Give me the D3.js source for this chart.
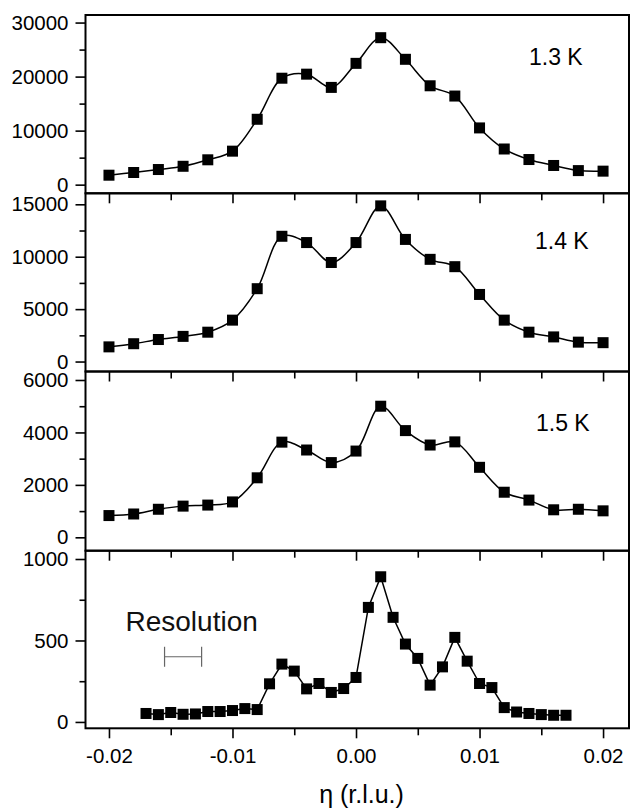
<!DOCTYPE html>
<html>
<head>
<meta charset="utf-8">
<script src="https://cdn.jsdelivr.net/npm/d3@7/dist/d3.min.js"></script>
<style>
  html, body { margin: 0; padding: 0; background: #fff; }
  svg { display: block; font-family: "Liberation Sans", Arial, Helvetica, sans-serif; }
</style>
</head>
<body>
<svg id="chart" width="634" height="810"></svg>
<script>
// ---------------- DATA ----------------
const etaCoarse = [-0.020,-0.018,-0.016,-0.014,-0.012,-0.010,-0.008,-0.006,-0.004,-0.002,
                   0.000,0.002,0.004,0.006,0.008,0.010,0.012,0.014,0.016,0.018,0.020];
const counts13K = [1750,2250,2800,3400,4600,6200,12100,19700,20450,18000,
                   22450,27200,23200,18300,16400,10500,6600,4650,3550,2600,2500];
const counts14K = [1400,1700,2100,2400,2800,3950,6950,11950,11350,9450,
                   11350,14850,11650,9750,9050,6400,3950,2800,2350,1850,1800];
const counts15K = [830,890,1070,1190,1230,1350,2270,3630,3330,2850,
                   3290,5000,4070,3520,3640,2670,1720,1420,1050,1070,1010];
const etaFine = [-0.017,-0.016,-0.015,-0.014,-0.013,-0.012,-0.011,-0.010,-0.009,-0.008,
                 -0.007,-0.006,-0.005,-0.004,-0.003,-0.002,-0.001,0.000,0.001,0.002,
                 0.003,0.004,0.005,0.006,0.007,0.008,0.009,0.010,0.011,0.012,
                 0.013,0.014,0.015,0.016,0.017];
const countsLow = [52,45,58,47,49,64,64,70,82,76,
                   234,355,312,203,236,181,205,273,703,891,
                   642,478,390,226,338,519,373,236,211,88,
                   61,52,45,41,41];
const tempLabels = ["1.3 K","1.4 K","1.5 K",""];
const yTicks1 = [0,10000,20000,30000];
const yTicks2 = [0,5000,10000,15000];
const yTicks3 = [0,2000,4000,6000];
const yTicks4 = [0,500,1000];
const xTicks = [-0.02,-0.01,0.00,0.01,0.02];
const xTickLabels = ["-0.02","-0.01","0.00","0.01","0.02"];
const resolutionEta = [-0.0155,-0.0125];
const resolutionLevel = 400;
const xTitle = "η (r.l.u.)";

// ---------------- LAYOUT ----------------
const svg = d3.select("#chart");
const left = 85.5, right = 629;
const x = d3.scaleLinear().domain([-0.0219, 0.0221]).range([left, right]);

const panels = [
  {top: 15,    bottom: 193.3, domain: [-1600, 31400], ticks: yTicks1, minor: 5000, eta: etaCoarse, vals: counts13K, curve: d3.curveCatmullRom.alpha(0.5), label: tempLabels[0], lx: 529, ly: 65},
  {top: 193.3, bottom: 371.5, domain: [-950, 16050],  ticks: yTicks2, minor: 2500, eta: etaCoarse, vals: counts14K, curve: d3.curveCatmullRom.alpha(0.5), label: tempLabels[1], lx: 535, ly: 249},
  {top: 371.5, bottom: 550.7, domain: [-510, 6324],   ticks: yTicks3, minor: 1000, eta: etaCoarse, vals: counts15K, curve: d3.curveCatmullRom.alpha(0.5), label: tempLabels[2], lx: 536, ly: 431},
  {top: 550.7, bottom: 728.3, domain: [-39, 1051],    ticks: yTicks4, minor: 250,  eta: etaFine,   vals: countsLow, curve: d3.curveLinear, label: tempLabels[3], lx: 0, ly: 0}
];

const fontTick = 20.5;
const xMinor = d3.range(-0.02, 0.0201, 0.005).map(v => +v.toFixed(4)).filter(v => !xTicks.some(t => Math.abs(t - v) < 1e-9));

panels.forEach((p, i) => {
  const y = d3.scaleLinear().domain(p.domain).range([p.bottom, p.top]);
  const g = svg.append("g");

  // minor y ticks
  const yMinor = d3.range(0, p.ticks[p.ticks.length - 1] + 1e-9, p.minor).filter(v => !p.ticks.includes(v));
  g.append("g").attr("transform", `translate(${left},0)`)
    .call(d3.axisLeft(y).tickValues(yMinor).tickSize(6).tickFormat(""))
    .call(a => a.select(".domain").remove())
    .call(a => a.selectAll("line").attr("stroke", "#000").attr("stroke-width", 1.6));
  // major y ticks
  g.append("g").attr("transform", `translate(${left},0)`)
    .call(d3.axisLeft(y).tickValues(p.ticks).tickSize(10).tickPadding(7).tickFormat(d3.format("d")))
    .call(a => a.select(".domain").remove())
    .call(a => a.selectAll("line").attr("stroke", "#000").attr("stroke-width", 1.6))
    .call(a => a.selectAll("text").attr("font-size", fontTick).attr("fill", "#000")
                 .attr("font-family", "'Liberation Sans', Arial, sans-serif"));

  // x ticks at bottom (outward)
  const isLast = i === panels.length - 1;
  g.append("g").attr("transform", `translate(0,${p.bottom})`)
    .call(d3.axisBottom(x).tickValues(xMinor).tickSize(7).tickFormat(""))
    .call(a => a.select(".domain").remove())
    .call(a => a.selectAll("line").attr("stroke", "#000").attr("stroke-width", 1.6));
  g.append("g").attr("transform", `translate(0,${p.bottom})`)
    .call(d3.axisBottom(x).tickValues(xTicks).tickSize(10).tickPadding(10)
          .tickFormat((d, k) => isLast ? xTickLabels[k] : ""))
    .call(a => a.select(".domain").remove())
    .call(a => a.selectAll("line").attr("stroke", "#000").attr("stroke-width", 1.6))
    .call(a => a.selectAll("text").attr("font-size", fontTick).attr("fill", "#000")
                 .attr("font-family", "'Liberation Sans', Arial, sans-serif"));

  // frame
  g.append("rect")
    .attr("x", left).attr("y", p.top)
    .attr("width", right - left).attr("height", p.bottom - p.top)
    .attr("fill", "none").attr("stroke", "#000").attr("stroke-width", 2);

  // data line
  const pts = p.eta.map((e, k) => [e, p.vals[k]]);
  g.append("path")
    .datum(pts)
    .attr("fill", "none").attr("stroke", "#000").attr("stroke-width", 1.5)
    .attr("d", d3.line().x(d => x(d[0])).y(d => y(d[1])).curve(p.curve));

  // square markers
  const s = 11;
  g.selectAll("rect.pt").data(pts).enter().append("rect")
    .attr("class", "pt")
    .attr("x", d => x(d[0]) - s / 2).attr("y", d => y(d[1]) - s / 2)
    .attr("width", s).attr("height", s).attr("fill", "#000");

  if (p.label) {
    g.append("text").attr("x", p.lx).attr("y", p.ly)
      .attr("font-size", 23).attr("fill", "#000").text(p.label);
  }

  if (isLast) {
    // resolution bar
    const ry = y(resolutionLevel);
    const x0 = x(resolutionEta[0]), x1 = x(resolutionEta[1]);
    g.append("line").attr("x1", x0).attr("x2", x1).attr("y1", ry).attr("y2", ry)
      .attr("stroke", "#666").attr("stroke-width", 1.2);
    [x0, x1].forEach(xx => {
      g.append("line").attr("x1", xx).attr("x2", xx).attr("y1", ry - 10).attr("y2", ry + 10)
        .attr("stroke", "#666").attr("stroke-width", 1.2);
    });
    g.append("text").attr("x", 125.5).attr("y", 631)
      .attr("font-size", 28).attr("fill", "#111").text("Resolution");
  }
});

// x axis title
svg.append("text")
  .attr("x", 361.5).attr("y", 803)
  .attr("text-anchor", "middle")
  .attr("font-size", 25).attr("fill", "#000")
  .text(xTitle);
</script>
</body>
</html>
